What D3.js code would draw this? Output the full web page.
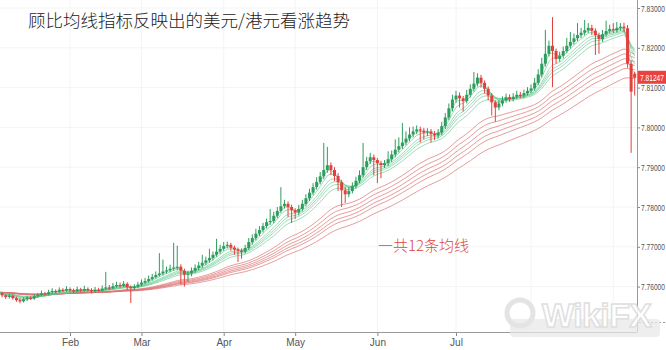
<!DOCTYPE html>
<html><head><meta charset="utf-8">
<script src="https://cdn.jsdelivr.net/npm/d3@7"></script>
<style>body{margin:0;background:#fff;}svg{display:block;}</style>
</head><body><svg id="c" width="666" height="350"></svg>
<script>
// ---- data (USD/HKD daily, 2017, weekdays from startDate) ----
const startDate = "2017-01-02";
const opens = [
7.7582,7.7586,7.7580,7.7583,7.7578,7.7574,7.7577,7.7571,7.7566,7.7563,
7.7568,7.7572,7.7570,7.7576,7.7579,7.7583,7.7581,7.7586,7.7589,7.7587,
7.7592,7.7590,7.7594,7.7591,7.7588,7.7593,7.7590,7.7594,7.7591,7.7588,
7.7592,7.7590,7.7595,7.7598,7.7596,7.7601,7.7604,7.7602,7.7607,7.7599,
7.7596,7.7600,7.7605,7.7610,7.7614,7.7619,7.7624,7.7629,7.7633,7.7638,
7.7641,7.7645,7.7648,7.7650,7.7640,7.7630,7.7633,7.7640,7.7647,7.7653,
7.7660,7.7666,7.7672,7.7680,7.7688,7.7695,7.7702,7.7705,7.7698,7.7693,
7.7690,7.7688,7.7697,7.7712,7.7722,7.7733,7.7742,7.7752,7.7762,7.7765,
7.7778,7.7790,7.7802,7.7808,7.7800,7.7792,7.7786,7.7795,7.7808,7.7822,
7.7836,7.7850,7.7863,7.7877,7.7893,7.7905,7.7893,7.7878,7.7862,7.7842,
7.7832,7.7840,7.7852,7.7866,7.7880,7.7900,7.7915,7.7925,7.7918,7.7910,
7.7905,7.7910,7.7920,7.7932,7.7944,7.7953,7.7962,7.7972,7.7982,7.7990,
7.7995,7.7992,7.7987,7.7990,7.7984,7.7980,7.7987,7.8003,7.8025,7.8048,
7.8070,7.8080,7.8073,7.8066,7.8082,7.8097,7.8110,7.8125,7.8112,7.8097,
7.8080,7.8063,7.8050,7.8060,7.8068,7.8076,7.8071,7.8077,7.8082,7.8080,
7.8086,7.8092,7.8098,7.8112,7.8133,7.8160,7.8185,7.8205,7.8192,7.8172,
7.8180,7.8192,7.8205,7.8215,7.8224,7.8232,7.8238,7.8244,7.8250,7.8243,
7.8232,7.8222,7.8234,7.8242,7.8247,7.8244,7.8250,7.8253,7.8249,7.8160,
7.8135];
const highs = [
7.7590,7.7590,7.7588,7.7587,7.7581,7.7582,7.7580,7.7575,7.7570,7.7573,
7.7577,7.7576,7.7581,7.7584,7.7590,7.7587,7.7592,7.7596,7.7593,7.7598,
7.7596,7.7601,7.7598,7.7595,7.7600,7.7597,7.7602,7.7598,7.7596,7.7599,
7.7597,7.7603,7.7637,7.7604,7.7609,7.7612,7.7610,7.7614,7.7611,7.7603,
7.7606,7.7612,7.7618,7.7622,7.7628,7.7632,7.7638,7.7684,7.7668,7.7650,
7.7655,7.7710,7.7703,7.7656,7.7645,7.7640,7.7648,7.7656,7.7662,7.7680,
7.7675,7.7695,7.7688,7.7720,7.7705,7.7712,7.7713,7.7710,7.7703,7.7698,
7.7696,7.7705,7.7722,7.7731,7.7745,7.7752,7.7760,7.7771,7.7795,7.7788,
7.7800,7.7850,7.7818,7.7814,7.7806,7.7797,7.7805,7.7818,7.7832,7.7846,
7.7860,7.7875,7.7888,7.7961,7.7951,7.7912,7.7900,7.7885,7.7868,7.7850,
7.7850,7.7862,7.7876,7.7892,7.7961,7.7926,7.7936,7.7932,7.7923,7.7916,
7.7918,7.7940,7.7942,7.7970,7.7975,7.8011,7.7990,7.8000,7.8002,7.8005,
7.8002,7.7999,7.7998,7.7996,7.7991,7.7996,7.8014,7.8036,7.8060,7.8082,
7.8092,7.8088,7.8079,7.8094,7.8108,7.8139,7.8136,7.8132,7.8118,7.8103,
7.8086,7.8068,7.8069,7.8078,7.8085,7.8083,7.8086,7.8092,7.8089,7.8095,
7.8101,7.8108,7.8124,7.8146,7.8175,7.8245,7.8218,7.8277,7.8198,7.8190,
7.8203,7.8225,7.8240,7.8236,7.8262,7.8250,7.8270,7.8262,7.8258,7.8249,
7.8238,7.8245,7.8268,7.8258,7.8262,7.8265,7.8262,7.8263,7.8257,7.8168,
7.8140];
const lows = [
7.7578,7.7576,7.7576,7.7573,7.7569,7.7570,7.7567,7.7562,7.7558,7.7560,
7.7564,7.7566,7.7567,7.7572,7.7576,7.7577,7.7578,7.7582,7.7583,7.7584,
7.7586,7.7587,7.7586,7.7584,7.7585,7.7586,7.7587,7.7587,7.7583,7.7585,
7.7586,7.7587,7.7591,7.7591,7.7593,7.7597,7.7598,7.7599,7.7591,7.7559,
7.7591,7.7596,7.7601,7.7606,7.7610,7.7615,7.7620,7.7625,7.7628,7.7632,
7.7636,7.7640,7.7641,7.7605,7.7600,7.7612,7.7626,7.7634,7.7641,7.7647,
7.7654,7.7660,7.7666,7.7675,7.7682,7.7690,7.7696,7.7690,7.7680,7.7662,
7.7670,7.7683,7.7692,7.7706,7.7716,7.7727,7.7736,7.7746,7.7755,7.7759,
7.7772,7.7784,7.7796,7.7775,7.7760,7.7770,7.7779,7.7789,7.7802,7.7815,
7.7830,7.7844,7.7857,7.7870,7.7886,7.7880,7.7865,7.7840,7.7800,7.7810,
7.7825,7.7834,7.7846,7.7860,7.7874,7.7893,7.7908,7.7880,7.7860,7.7872,
7.7898,7.7903,7.7913,7.7925,7.7937,7.7946,7.7955,7.7965,7.7975,7.7983,
7.7962,7.7970,7.7978,7.7962,7.7968,7.7972,7.7980,7.7996,7.8018,7.8040,
7.8062,7.8050,7.8040,7.8060,7.8075,7.8090,7.8103,7.8100,7.8085,7.8068,
7.8030,7.8014,7.8043,7.8053,7.8062,7.8064,7.8065,7.8071,7.8073,7.8074,
7.8080,7.8086,7.8092,7.8106,7.8126,7.8153,7.8178,7.8101,7.8160,7.8165,
7.8173,7.8186,7.8198,7.8208,7.8217,7.8225,7.8231,7.8237,7.8232,7.8182,
7.8185,7.8215,7.8228,7.8236,7.8237,7.8238,7.8243,7.8240,7.8150,7.7936,
7.8080];
const closes = [
7.7586,7.7580,7.7583,7.7578,7.7574,7.7577,7.7571,7.7566,7.7563,7.7568,
7.7572,7.7570,7.7576,7.7579,7.7583,7.7581,7.7586,7.7589,7.7587,7.7592,
7.7590,7.7594,7.7591,7.7588,7.7593,7.7590,7.7594,7.7591,7.7588,7.7592,
7.7590,7.7595,7.7598,7.7596,7.7601,7.7604,7.7602,7.7607,7.7599,7.7596,
7.7600,7.7605,7.7610,7.7614,7.7619,7.7624,7.7629,7.7633,7.7638,7.7641,
7.7645,7.7648,7.7650,7.7640,7.7630,7.7633,7.7640,7.7647,7.7653,7.7660,
7.7666,7.7672,7.7680,7.7688,7.7695,7.7702,7.7705,7.7698,7.7693,7.7690,
7.7688,7.7697,7.7712,7.7722,7.7733,7.7742,7.7752,7.7762,7.7765,7.7778,
7.7790,7.7802,7.7808,7.7800,7.7792,7.7786,7.7795,7.7808,7.7822,7.7836,
7.7850,7.7863,7.7877,7.7893,7.7905,7.7893,7.7878,7.7862,7.7842,7.7832,
7.7840,7.7852,7.7866,7.7880,7.7900,7.7915,7.7925,7.7918,7.7910,7.7905,
7.7910,7.7920,7.7932,7.7944,7.7953,7.7962,7.7972,7.7982,7.7990,7.7995,
7.7992,7.7987,7.7990,7.7984,7.7980,7.7987,7.8003,7.8025,7.8048,7.8070,
7.8080,7.8073,7.8066,7.8082,7.8097,7.8110,7.8125,7.8112,7.8097,7.8080,
7.8063,7.8050,7.8060,7.8068,7.8076,7.8071,7.8077,7.8082,7.8080,7.8086,
7.8092,7.8098,7.8112,7.8133,7.8160,7.8185,7.8205,7.8192,7.8172,7.8180,
7.8192,7.8205,7.8215,7.8224,7.8232,7.8238,7.8244,7.8250,7.8243,7.8232,
7.8222,7.8234,7.8242,7.8247,7.8244,7.8250,7.8253,7.8249,7.8160,7.8090,
7.81247];
const yTicks = [7.83,7.82,7.81,7.80,7.79,7.78,7.77,7.76];
const monthLabels = ["Feb","Mar","Apr","May","Jun","Jul"];
const gridMonths = ["Feb","Mar","Apr","May","Jun","Jul","Aug","Sep"];
const shortPeriods = [3,5,8,10,12,15];
const longPeriods = [30,35,40,45,50,60];
const lastPrice = 7.81247;
const titleText = "顾比均线指标反映出的美元/港元看涨趋势";
const noteText = "一共12条均线";

// ---- build ----
const W = 666, H = 350;
const plotRight = 637, axisY = 332;
const svg = d3.select("#c");

// weekday dates
const dates = [];
{ let d = d3.timeParse("%Y-%m-%d")(startDate);
  while (dates.length < closes.length) { const wd = d.getDay(); if (wd !== 0 && wd !== 6) dates.push(new Date(d)); d = d3.timeDay.offset(d, 1); } }
const fmtMon = d3.timeFormat("%b");
const monthStarts = [];
dates.forEach((d, i) => { if (i > 0 && d.getMonth() !== dates[i-1].getMonth()) monthStarts.push({i, m: fmtMon(d)}); });

const x = d3.scaleLinear().domain([0, closes.length - 1]).range([-8.6, 634.7]);
const y = d3.scaleLinear().domain([7.75, 7.83]).range([326.4, 8]);

// grid
const grid = svg.append("g");
grid.selectAll("line.gy").data(yTicks).join("line")
  .attr("x1", 0).attr("x2", plotRight).attr("y1", d => y(d)).attr("y2", d => y(d))
  .attr("stroke", "#f4f4f4");
grid.selectAll("line.gx").data(monthStarts.filter(m => gridMonths.includes(m.m))).join("line")
  .attr("x1", d => x(d.i)).attr("x2", d => x(d.i)).attr("y1", 0).attr("y2", axisY)
  .attr("stroke", "#f4f4f4");

svg.append("defs").append("clipPath").attr("id", "pc")
  .append("rect").attr("x", 0).attr("y", 0).attr("width", plotRight).attr("height", axisY);
const plot = svg.append("g").attr("clip-path", "url(#pc)");

function ema(vals, n) { const k = 2 / (n + 1); let e = vals[0]; return vals.map((v, i) => i === 0 ? e : (e = v * k + e * (1 - k))); }
const line = d3.line().x((d, i) => x(i)).y(d => y(d));

plot.selectAll("path.long").data(longPeriods.map(p => ema(closes, p))).join("path")
  .attr("d", line).attr("fill", "none").attr("stroke", "#dc7272").attr("stroke-opacity", 0.7).attr("stroke-width", 1);
plot.selectAll("path.short").data(shortPeriods.map(p => ema(closes, p))).join("path")
  .attr("d", line).attr("fill", "none").attr("stroke", "#5fc48a").attr("stroke-opacity", 0.6).attr("stroke-width", 1);

const idx = d3.range(closes.length);
const col = i => closes[i] >= opens[i] ? "#2e9e5e" : "#e2403d";
plot.selectAll("line.wick").data(idx).join("line")
  .attr("x1", i => x(i)).attr("x2", i => x(i))
  .attr("y1", i => y(highs[i])).attr("y2", i => y(lows[i]))
  .attr("stroke", col).attr("stroke-width", 1);
const bw = 3;
plot.selectAll("rect.body").data(idx).join("rect")
  .attr("x", i => x(i) - bw / 2).attr("width", bw)
  .attr("y", i => y(Math.max(opens[i], closes[i])))
  .attr("height", i => Math.max(1.2, Math.abs(y(opens[i]) - y(closes[i]))))
  .attr("fill", col);

// axes
const labelFont = "9.5px 'Liberation Sans', Arial, sans-serif";
const sx = 0.7;
const yAxis = d3.axisRight(y).tickValues(yTicks).tickFormat(d3.format(".5f")).tickSize(3).tickPadding(1);
const ya = svg.append("g").attr("transform", `translate(${plotRight},0)`).call(yAxis);
ya.select(".domain").remove();
ya.selectAll("line").attr("stroke", "#888");
ya.selectAll("text").attr("fill", "#555").style("font", labelFont)
  .attr("x", 4 / sx).attr("transform", `scale(${sx},1)`);
svg.append("line").attr("x1", plotRight + 0.5).attr("x2", plotRight + 0.5).attr("y1", 0).attr("y2", axisY).attr("stroke", "#999");

const xTicks = monthStarts.filter(m => monthLabels.includes(m.m));
const xAxis = d3.axisBottom(x).tickValues(xTicks.map(m => m.i)).tickFormat(i => fmtMon(dates[i])).tickSize(4).tickPadding(3);
const xa = svg.append("g").attr("transform", `translate(0,${axisY})`).call(xAxis);
xa.select(".domain").remove();
xa.selectAll("line").attr("stroke", "#888");
xa.selectAll("text").attr("fill", "#555").style("font", "10px 'Liberation Sans', Arial, sans-serif");
svg.append("line").attr("x1", 0).attr("x2", plotRight).attr("y1", axisY + 0.5).attr("y2", axisY + 0.5).attr("stroke", "#999");

// dashed line right of axis
svg.append("line").attr("x1", plotRight + 2).attr("x2", W).attr("y1", 322.5).attr("y2", 322.5)
  .attr("stroke", "#999").attr("stroke-dasharray", "2,2");

// last price label
svg.append("rect").attr("x", plotRight + 1).attr("y", y(lastPrice) - 7).attr("width", W - plotRight).attr("height", 13).attr("fill", "#e8433f");
svg.append("text").attr("transform", `translate(${plotRight + 3},${y(lastPrice) + 3.5}) scale(${sx},1)`)
  .text(d3.format(".5f")(lastPrice))
  .attr("fill", "#fff").style("font", labelFont);

// title & note
svg.append("text").attr("x", 28).attr("y", 27).text(titleText)
  .attr("fill", "#222").style("font", "300 17.5px 'Noto Sans CJK SC', sans-serif");
svg.append("text").attr("x", 378).attr("y", 251).text(noteText)
  .attr("fill", "#d9473f").style("font", "300 15px 'Noto Sans CJK SC', sans-serif");

// watermark
const wm = svg.append("g").attr("opacity", 0.9);
wm.append("rect").attr("x", 510).attr("y", 319).attr("width", 150).attr("height", 18).attr("rx", 4).attr("fill", "#e9e9e9").attr("opacity", 0.8);
wm.append("circle").attr("cx", 520).attr("cy", 313).attr("r", 13).attr("fill", "none").attr("stroke", "#e2e2e2").attr("stroke-width", 5);
wm.append("text").attr("x", 542).attr("y", 327).text("WikiFX").attr("textLength", 110)
  .attr("fill", "#fff").attr("stroke", "#dcdcdc").attr("stroke-width", 1.5)
  .style("font", "bold 34px 'Liberation Sans', Arial, sans-serif");
</script></body></html>
